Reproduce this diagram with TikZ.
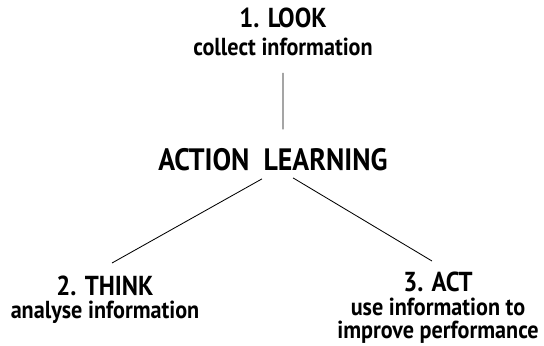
\documentclass[tikz,border=0pt]{standalone}
\usepackage{fontspec}
\setmainfont{PT Sans}[FakeStretch=0.9]
\usepackage{tikz}
\usetikzlibrary{positioning, calc}
\tikzstyle{stage}=[inner sep=0pt,anchor=base,font=\bfseries\fontsize{19.5}{23}\selectfont]
\tikzstyle{task}=[inner sep=0pt,anchor=base,font=\bfseries\fontsize{17.5}{21}\selectfont]
\tikzstyle{hub}=[inner sep=0pt,anchor=base,font=\bfseries\fontsize{22}{26}\selectfont]

\begin{document}
\begin{tikzpicture}[x=0.025cm,y=-0.025cm,line width=0.6pt]
    \useasboundingbox (0,0) rectangle (544,345);
    \node [stage] (look) at (283,27) {1. LOOK};
    \node [task] (lookinfo) at (283,55) {collect information};
    \node [hub] (al) at (273,170) {ACTION\ \ LEARNING};
    \node [stage] (think) at (105,295) {2. THINK};
    \node [task] (thinkinfo) at (105,318) {analyse information};
    \node [stage] (act) at (438,291) {3. ACT};
    \node [task] (actinfo) at (438,315) {use information to};
    \node [task] (actinfo2) at (438,338) {improve performance};
    \draw ([yshift=-0.425cm]lookinfo.south) -- ([xshift=0.25cm,yshift=0.45cm]al.north);
    \draw ([xshift=-0.275cm,yshift=-0.2cm]al.south) -- ([xshift=0.175cm,yshift=0.3cm]think.north);
    \draw ([xshift=0.5cm,yshift=-0.175cm]al.south) -- ([xshift=-0.15cm,yshift=0.25cm]act.north);
\end{tikzpicture}
\end{document}
